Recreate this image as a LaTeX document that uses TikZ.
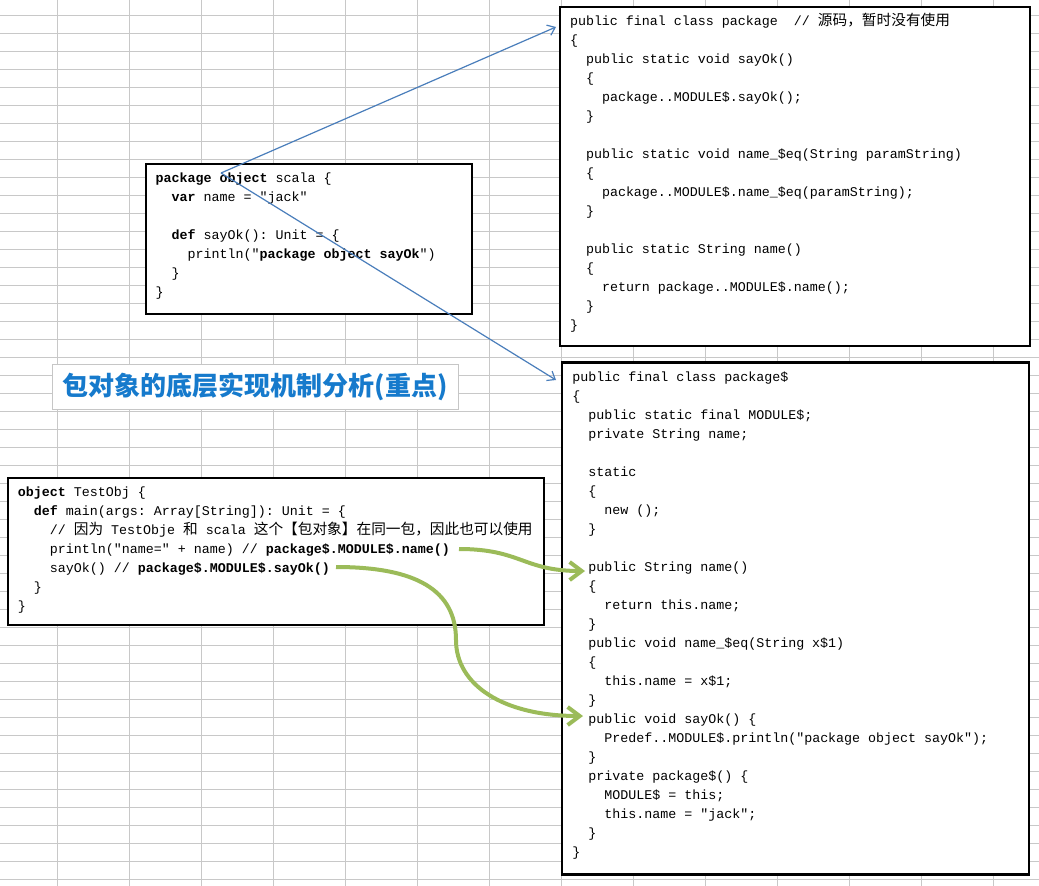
\documentclass[tikz,border=0pt]{standalone}
\usepackage{fontspec}
\usepackage{tkz-euclide}
\usetikzlibrary{arrows.meta}
\setmonofont{Liberation Mono}
\newfontfamily\cjk{Noto Sans CJK SC}
\definecolor{gridgray}{RGB}{200,200,200}
\definecolor{linkblue}{RGB}{74,126,187}
\definecolor{callgreen}{RGB}{155,187,89}
\definecolor{titleblue}{RGB}{22,122,204}
\newcommand{\ind}[1]{\hspace*{\numexpr#1*8\relax pt}}
\newcommand{\zh}[1]{{\fontsize{14.67}{19}\cjk #1}}
\newcommand{\kw}[1]{\textbf{#1}}
\newcommand{\code}[3]{\parbox[c][#2pt][t]{#1pt}{\ttfamily\fontsize{13.33}{19}\selectfont\rule{0pt}{18.5pt}#3}}
\tikzset{
	codebox/.style={draw,line width=2.2pt,fill=white,inner xsep=10pt,inner ysep=0pt,outer sep=0pt,anchor=north west},
	titlebox/.style={draw=gray!45,line width=1pt,fill=white,minimum width=405.7pt,minimum height=45pt,outer sep=0pt,anchor=north west,text=titleblue,font=\fontsize{26}{30}\cjk\bfseries},
	gridline/.style={gridgray,line width=1pt},
	linkarrow/.style={linkblue,line width=1.2pt,-{Straight Barb[length=7pt,width=11pt]}},
	callarrow/.style={callgreen,line width=4pt,-{Straight Barb[length=12pt,width=18pt]}}
}
\begin{document}
\begin{tikzpicture}[x=1pt,y=-1pt]
		\useasboundingbox (0,0) rectangle (1039,886);
		\fill[white] (0,0) rectangle (1039,886);
		\foreach \gx in {57.5,129.5,...,993.5} \draw[gridline] (\gx,0) -- (\gx,886);
		\foreach \gy in {15,33,...,879} \draw[gridline] (0,\gy) -- (1039,\gy);
		\node[titlebox] (title) at (52.5,364.3) {包对象的底层实现机制分析(重点)};
		\node[codebox] (pkgObj) at (145.7,164) {\code{306.3}{150.3}{%
			\kw{package} \kw{object} scala \{\\
			\ind{2}\kw{var} name = "jack"\\[19pt]
			\ind{2}\kw{def} sayOk(): Unit = \{\\
			\ind{4}println("\kw{package object sayOk}")\\
			\ind{2}\}\\
			\}}};
		\node[codebox] (clsPkg) at (560,6.7) {\code{450.3}{339}{%
			public final class package\ \ // \zh{源码，暂时没有使用}\\
			\{\\
			\ind{2}public static void sayOk()\\
			\ind{2}\{\\
			\ind{4}package..MODULE\$.sayOk();\\
			\ind{2}\}\\[19pt]
			\ind{2}public static void name\_\$eq(String paramString)\\
			\ind{2}\{\\
			\ind{4}package..MODULE\$.name\_\$eq(paramString);\\
			\ind{2}\}\\[19pt]
			\ind{2}public static String name()\\
			\ind{2}\{\\
			\ind{4}return package..MODULE\$.name();\\
			\ind{2}\}\\
			\}}};
		\node[codebox] (clsMod) at (562.3,362.5) {\code{446.7}{512}{%
			public final class package\$\\
			\{\\
			\ind{2}public static final MODULE\$;\\
			\ind{2}private String name;\\[19pt]
			\ind{2}static\\
			\ind{2}\{\\
			\ind{4}new ();\\
			\ind{2}\}\\[19pt]
			\ind{2}public String name()\\
			\ind{2}\{\\
			\ind{4}return this.name;\\
			\ind{2}\}\\
			\ind{2}public void name\_\$eq(String x\$1)\\
			\ind{2}\{\\
			\ind{4}this.name = x\$1;\\
			\ind{2}\}\\
			\ind{2}public void sayOk() \{\\
			\ind{4}Predef..MODULE\$.println("package object sayOk");\\
			\ind{2}\}\\
			\ind{2}private package\$() \{\\
			\ind{4}MODULE\$ = this;\\
			\ind{4}this.name = "jack";\\
			\ind{2}\}\\
			\}}};
		\node[codebox] (testObj) at (7.9,477.7) {\code{516.4}{147.3}{%
			\kw{object} TestObj \{\\
			\ind{2}\kw{def} main(args: Array[String]): Unit = \{\\
			\ind{4}// \zh{因为} TestObje \zh{和} scala \zh{这个【包对象】在同一包，因此也可以使用}\\
			\ind{4}println("name=" + name) // \kw{package\$.MODULE\$.name()}\\
			\ind{4}sayOk() // \kw{package\$.MODULE\$.sayOk()}\\
			\ind{2}\}\\
			\}}};
		\tkzDefPoints{221/173/O, 556/27/P, 556/380/Q, 459/549/N, 585/571/M, 336/567/S, 456/640/T, 583/716/K}
		\draw[linkarrow] (O) -- (P);
		\draw[linkarrow] (O) -- (Q);
		\draw[callarrow] (N) .. controls +(62,0) and +(-62,0) .. (M);
		\draw[callarrow] (S) .. controls +(80,0) and +(0,-50) .. (T) .. controls +(0,45) and +(-80,0) .. (K);
	\end{tikzpicture}
\end{document}
